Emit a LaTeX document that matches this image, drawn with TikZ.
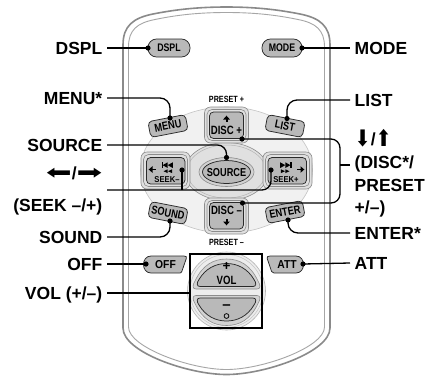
\documentclass[tikz,border=0pt]{standalone}
\usepackage{fontspec}
\usepackage{graphicx}
\setmainfont{Liberation Sans}
\newfontfamily\btnfont{Liberation Sans}[FakeStretch=0.8]
\newfontfamily\btnwfont{Liberation Sans}[FakeStretch=0.9]
\newfontfamily\arrfont{DejaVu Sans}
\usetikzlibrary{shapes.geometric}
\definecolor{btngray}{HTML}{B9B9B9}
\definecolor{padbg}{HTML}{F1F1F1}
\definecolor{padline}{HTML}{C4C4C4}
\definecolor{padlight}{HTML}{E0E0E0}
\definecolor{padmid}{HTML}{D2D2D2}
\definecolor{ringgray}{HTML}{8C8C8C}
\definecolor{ringlight}{HTML}{B4B4B4}
\definecolor{rimgray}{HTML}{8A8A8A}
\definecolor{rimlight}{HTML}{A6A6A6}
\definecolor{volfill}{HTML}{EDEDED}
\definecolor{btnedge}{HTML}{2A2A2A}
\tikzset{
  lbl/.style={font=\fontsize{17.5}{21}\selectfont\bfseries, text height=12.6pt, text depth=0pt, inner xsep=4.5pt, inner ysep=0pt},
  conn/.style={line width=1.3pt, draw=black},
  btn/.style={fill=btngray, draw=btnedge, line width=0.75pt},
  ring/.style={draw=ringgray, line width=0.6pt},
  btxt/.style={font=\btnfont\bfseries\fontsize{11.5}{11.5}\selectfont, inner sep=0pt},
  stxt/.style={font=\btnfont\bfseries\fontsize{9}{9}\selectfont, inner sep=0pt},
  ktxt/.style={font=\btnwfont\bfseries\fontsize{8.5}{8.5}\selectfont, inner sep=0pt},
  wtxt/.style={font=\btnwfont\bfseries\fontsize{11.5}{11.5}\selectfont, inner sep=0pt},
  pill/.style={btn, rounded corners=8.5pt, minimum width=42pt, minimum height=18pt, inner sep=0pt, font=\btnfont\bfseries\fontsize{11}{11}\selectfont},
  tab/.style={btn, rounded corners=4pt, minimum width=38pt, minimum height=16pt, inner sep=0pt, font=\btnfont\bfseries\fontsize{11.5}{11.5}\selectfont},
  seekicons/.pic={
    \fill (-6,-5.2) rectangle (-4.9,0.5);
    \fill (-4.9,-2.35) -- (0.2,-5.2) -- (0.2,0.5) -- cycle;
    \fill (0.2,-2.35) -- (5.3,-5.2) -- (5.3,0.5) -- cycle;
    \fill (-4,3.7) -- (0.2,1.8) -- (0.2,5.6) -- cycle;
    \fill (0.4,3.7) -- (4.6,1.8) -- (4.6,5.6) -- cycle;
    \fill (-18.8,2) -- (-15,-1.3) -- (-15,5.3) -- cycle;
    \fill (-15.2,1.1) rectangle (-11.3,2.9);
  },
  uparr/.pic={
    \fill (-3.4,0) -- (0,-3.8) -- (3.4,0) -- cycle;
    \fill (-1,-0.2) rectangle (1,2.8);
  },
}
\begin{document}
\begin{tikzpicture}[x=1pt,y=-1pt]
\useasboundingbox (0,0) rectangle (428,376);

% remote body
\draw[rimgray, line width=1.6pt, fill=white] (123,45) -- (123,328) .. controls (123,352) and (188,374.5) .. (226.5,374.5) .. controls (265,374.5) and (330,352) .. (330,328) -- (330,45) .. controls (330,26) and (320,18) .. (300,14) .. controls (275,9) and (252,7) .. (226.5,7) .. controls (201,7) and (178,9) .. (153,14) .. controls (133,18) and (123,26) .. (123,45) -- cycle;
\draw[rimlight, line width=0.9pt] (128.5,47) -- (128.5,327) .. controls (128.5,347) and (190,369.5) .. (226.5,369.5) .. controls (263,369.5) and (324.5,347) .. (324.5,327) -- (324.5,47) .. controls (324.5,30) and (316,23) .. (298,19.5) .. controls (274,14.5) and (252,12.5) .. (226.5,12.5) .. controls (201,12.5) and (179,14.5) .. (155,19.5) .. controls (137,23) and (128.5,30) .. (128.5,47) -- cycle;

% pad backdrop
\draw[draw=padline, line width=0.6pt, fill=padbg] (226.5,170) ellipse [x radius=86, y radius=63];
\draw[ring, fill=padlight] (226.5,171.5) ellipse [x radius=42, y radius=29];
\draw[draw=ringlight, line width=0.5pt] (226.5,171.5) ellipse [x radius=39.5, y radius=26.5];

% DISC +
\draw[ring, fill=padlight, rounded corners=6pt] (204.5,107) rectangle (248.5,143);
\draw[ring, rounded corners=5pt] (207,109.5) rectangle (246,140.5);
\node[btn, rounded corners=4pt, minimum width=34pt, minimum height=26.5pt, inner sep=0pt] (bDISCp) at (226.5,125.25) {};
% DISC -
\draw[ring, fill=padlight, rounded corners=6pt] (204.5,198) rectangle (248.5,234);
\draw[ring, rounded corners=5pt] (207,200.5) rectangle (246,231.5);
\node[btn, rounded corners=4pt, minimum width=34pt, minimum height=26.5pt, inner sep=0pt] (bDISCm) at (226.5,215.75) {};
% SEEK -
\draw[ring, fill=padlight, rounded corners=6pt] (141,152) rectangle (190,189);
\draw[ring, rounded corners=5pt] (143.5,154.5) rectangle (187.5,186.5);
\node[btn, rounded corners=4pt, minimum width=38.5pt, minimum height=26.5pt, inner sep=0pt] (bSEEKm) at (165.75,170.75) {};
% SEEK +
\draw[ring, fill=padlight, rounded corners=6pt] (263,152) rectangle (312,189);
\draw[ring, rounded corners=5pt] (265.5,154.5) rectangle (309.5,186.5);
\node[btn, rounded corners=4pt, minimum width=38.5pt, minimum height=26.5pt, inner sep=0pt] (bSEEKp) at (287.25,170.75) {};

% SOURCE
\draw[ring, fill=padmid] (226.5,172) ellipse [x radius=27.5, y radius=14.5];
\draw[btn] (226.5,172) ellipse [x radius=24, y radius=11.5];
\node[btxt] (tSRC) at (226.5,172.5) {SOURCE};

% pad texts and icons
\node[btxt, font=\btnfont\bfseries\fontsize{12}{12}\selectfont] (tDISCp) at (226.5,130.5) {DISC +};
\pic at (226.5,119.5) {uparr};
\node[btxt, font=\btnfont\bfseries\fontsize{12}{12}\selectfont] (tDISCm) at (226.5,210) {DISC –};
\pic[yscale=-1] at (226.5,221.5) {uparr};
\pic at (167.5,167.5) {seekicons};
\pic[xscale=-1] at (285.5,167.5) {seekicons};
\node[ktxt] (tSEEKm) at (167,179.5) {SEEK–};
\node[ktxt] (tSEEKp) at (286,179.5) {SEEK+};
\node[stxt] (tPREp) at (226.5,99.5) {PRESET +};
\node[stxt] (tPREm) at (226.5,242.5) {PRESET –};

% tabs
\node[tab, rotate=11] (bMENU) at (168,126) {MENU};
\node[tab, rotate=-11] (bLIST) at (285,126) {LIST};
\node[tab, rotate=-11] (bSOUND) at (168,213) {SOUND};
\node[tab, rotate=11] (bENTER) at (285,212) {ENTER};

% pills
\node[pill] (bDSPL) at (169,48) {DSPL};
\node[pill, minimum width=40pt] (bMODE) at (282,48) {MODE};

% OFF / ATT
\draw[btn] (151,256) -- (184,256) .. controls (186.5,256) and (186.8,257) .. (186.3,258.5) -- (181.8,271.5) .. controls (181.3,273) and (180.5,273) .. (179,273) -- (151,273) .. controls (141,273) and (141,256) .. (151,256) -- cycle;
\node[wtxt] (tOFF) at (165.5,264.5) {OFF};
\draw[btn] (270,256) -- (296,256) .. controls (306,256) and (306,273) .. (296,273) -- (274,273) .. controls (272.5,273) and (272,272.5) .. (271.6,271.5) -- (267.2,258.5) .. controls (266.8,257) and (267.5,256) .. (270,256) -- cycle;
\node[wtxt] (tATT) at (287,264.5) {ATT};

% VOL
\draw[draw=ringlight, line width=0.6pt, fill=volfill] (226.5,291) circle (39);
\draw[draw=padline, line width=0.5pt] (226.5,291) circle (36.5);
\begin{scope}[shift={(226.5,289)}]
  \draw[ring, fill=padmid] (-30.5,0) -- (30.5,0) .. controls (34.5,0) and (34,-4) .. (31.5,-8) .. controls (24,-24) and (13,-30) .. (0,-30) .. controls (-13,-30) and (-24,-24) .. (-31.5,-8) .. controls (-34,-4) and (-34.5,0) .. (-30.5,0) -- cycle;
\end{scope}
\begin{scope}[shift={(226.5,286.5)}]
  \draw[btn] (-26.5,0) -- (26.5,0) .. controls (30,0) and (30,-3.5) .. (27.5,-7) .. controls (21,-18) and (11,-23) .. (0,-23) .. controls (-11,-23) and (-21,-18) .. (-27.5,-7) .. controls (-30,-3.5) and (-30,0) .. (-26.5,0) -- cycle;
\end{scope}
\begin{scope}[shift={(226.5,295.5)}, yscale=-1]
  \draw[ring, fill=padmid] (-30.5,0) -- (30.5,0) .. controls (34.5,0) and (34,-4) .. (31.5,-8) .. controls (24,-24) and (13,-30) .. (0,-30) .. controls (-13,-30) and (-24,-24) .. (-31.5,-8) .. controls (-34,-4) and (-34.5,0) .. (-30.5,0) -- cycle;
\end{scope}
\begin{scope}[shift={(226.5,298)}, yscale=-1]
  \draw[btn] (-26.5,0) -- (26.5,0) .. controls (30,0) and (30,-3.5) .. (27.5,-7) .. controls (21,-18) and (11,-23) .. (0,-23) .. controls (-11,-23) and (-21,-18) .. (-27.5,-7) .. controls (-30,-3.5) and (-30,0) .. (-26.5,0) -- cycle;
\end{scope}
\node[btxt, font=\bfseries\fontsize{13.5}{13.5}\selectfont] (tVOLp) at (226.5,267) {+};
\node[btxt, font=\btnfont\bfseries\fontsize{12}{12}\selectfont] (tVOL) at (226.5,280.5) {VOL};
\node[btxt, font=\bfseries\fontsize{15}{15}\selectfont] (tVOLm) at (226.5,307.5) {–};
\draw[black, line width=0.75pt] (226.5,316) circle (2.4);
\node[draw=black, line width=1.3pt, minimum width=72pt, minimum height=74pt, inner sep=0pt] (volbox) at (226,291) {};

% labels left
\node[lbl, anchor=east] (lDSPL) at (107,48) {DSPL};
\node[lbl, anchor=east] (lMENU) at (107,98) {MENU*};
\node[lbl, anchor=east] (lSRC) at (107,145) {SOURCE};
\node[lbl, anchor=east] (lARR) at (107,173) {\raisebox{-0.5pt}{\scalebox{1.75}[1.15]{\arrfont\mdseries ⬅}}/\raisebox{-0.5pt}{\scalebox{1.75}[1.15]{\arrfont\mdseries ➡}}};
\node[lbl, anchor=east] (lSEEK) at (107,205) {(SEEK –/+)};
\node[lbl, anchor=east] (lSOUND) at (107,237) {SOUND};
\node[lbl, anchor=east] (lOFF) at (107,264) {OFF};
\node[lbl, anchor=east] (lVOL) at (107,293) {VOL (+/–)};
% labels right
\node[lbl, anchor=west] (lMODE) at (350,48) {MODE};
\node[lbl, anchor=west] (lLIST) at (350,100) {LIST};
\node[lbl, anchor=west] (lUD) at (350,139) {\raisebox{-1pt}{\scalebox{1.1}[1.3]{\arrfont\mdseries ⬇}}/\raisebox{-1pt}{\scalebox{1.1}[1.3]{\arrfont\mdseries ⬆}}};
\node[lbl, anchor=west] (lDISC) at (350,162) {(DISC*/};
\node[lbl, anchor=west] (lPRE) at (350,185) {PRESET};
\node[lbl, anchor=west] (lPM) at (350,207) {+/–)};
\node[lbl, anchor=west] (lENTER) at (350,233) {ENTER*};
\node[lbl, anchor=west] (lATT) at (350,263) {ATT};

% dots
\coordinate (dDSPL) at (148,48);
\coordinate (dMODE) at (302,48);
\coordinate (dMENU) at (170,118);
\coordinate (dLIST) at (287,118.5);
\coordinate (dSRC) at (226.5,157.5);
\coordinate (dSEEKm) at (182,170);
\coordinate (dSEEKp) at (271,170);
\coordinate (dDISCp) at (242,139);
\coordinate (dDISCm) at (242.5,203);
\coordinate (dSOUND) at (170,221);
\coordinate (dENTER) at (288,220);
\coordinate (dOFF) at (146,264);
\coordinate (dATT) at (303,264);
\coordinate (cSEEK) at (107,190);
\coordinate (cBr) at (340,165);

% connectors
\draw[conn] (lDSPL.east) -- (dDSPL);
\draw[conn, rounded corners=10pt] (lMENU.east) -- (dMENU |- lMENU.east) -- (dMENU);
\draw[conn, rounded corners=9pt] (lSRC.east) -- (dSRC |- lSRC.east) -- (dSRC);
\draw[conn, rounded corners=9pt] (cSEEK) -- (dSEEKp |- cSEEK) -- (dSEEKp);
\draw[conn] (dSEEKm) -- (dSEEKm |- cSEEK);
\draw[conn, rounded corners=10pt] (lSOUND.east) -- (dSOUND |- lSOUND.east) -- (dSOUND);
\draw[conn] (lOFF.east) -- (dOFF);
\draw[conn] (lVOL.east) -- (lVOL.east -| volbox.west);
\draw[conn] (dMODE) -- (lMODE.west);
\draw[conn, rounded corners=10pt] (dLIST) -- (dLIST |- lLIST.west) -- (lLIST.west);
\draw[conn, rounded corners=9pt] (dDISCp) -- (dDISCp -| cBr) -- (dDISCm -| cBr) -- (dDISCm);
\draw[conn] (cBr) -- (cBr -| lDISC.west);
\draw[conn, rounded corners=10pt] (dENTER) -- (dENTER |- lENTER.west) -- (lENTER.west);
\draw[conn] (dATT) -- (lATT.west);
\foreach \dd in {dDSPL,dMODE,dMENU,dLIST,dSRC,dSEEKm,dSEEKp,dDISCp,dDISCm,dSOUND,dENTER,dOFF,dATT}
  \fill (\dd) circle (2.6);
\end{tikzpicture}
\end{document}
